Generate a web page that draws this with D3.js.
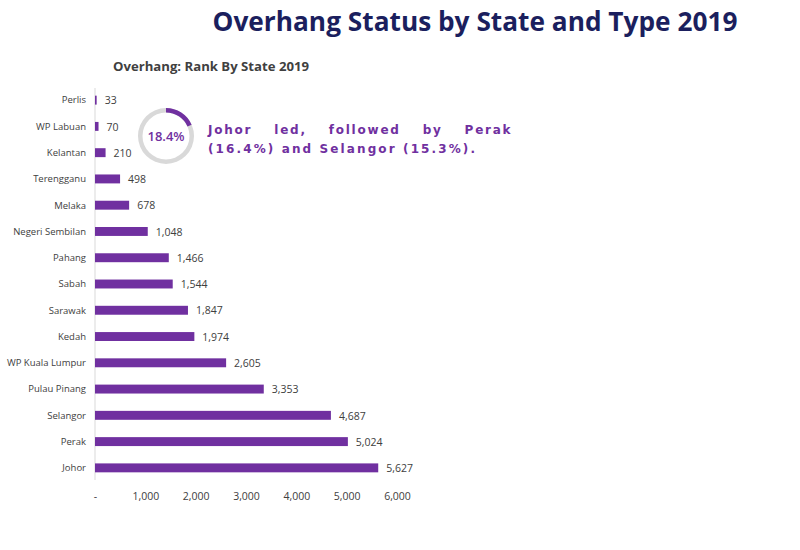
<!DOCTYPE html>
<html><head><meta charset="utf-8">
<script src="https://cdn.jsdelivr.net/npm/d3@7"></script>
<style>body{margin:0;background:#fff}</style>
</head><body><svg id="c" width="800" height="550"></svg>
<script>
const states = ["Perlis","WP Labuan","Kelantan","Terengganu","Melaka","Negeri Sembilan","Pahang","Sabah","Sarawak","Kedah","WP Kuala Lumpur","Pulau Pinang","Selangor","Perak","Johor"];
const overhang = [33,70,210,498,678,1048,1466,1544,1847,1974,2605,3353,4687,5024,5627];
const xTicks = [0,1000,2000,3000,4000,5000,6000];
const johorShare = 0.184;
const title = "Overhang Status by State and Type 2019";
const subtitle = "Overhang: Rank By State 2019";
const noteLines = ["Johor led, followed by Perak","(16.4%) and Selangor (15.3%)."];

const svg = d3.select("#c");
const purple = "#7030a0";

svg.append("text").attr("x",475).attr("y",31).attr("text-anchor","middle")
  .attr("font-family","'Open Sans', sans-serif").attr("font-weight","bold").attr("font-size",26.5)
  .attr("fill","#1b1f5e").attr("textLength",525).attr("lengthAdjust","spacingAndGlyphs").text(title);
svg.append("text").attr("x",113).attr("y",71)
  .attr("font-family","'Open Sans', sans-serif").attr("font-weight","bold").attr("font-size",12.5)
  .attr("fill","#404040").attr("textLength",196).attr("lengthAdjust","spacingAndGlyphs").text(subtitle);

const x = d3.scaleLinear().domain([0,6000]).range([95,397]);
const y = d3.scaleBand().domain(states).range([87,481]).paddingInner(0.66).paddingOuter(0.33);

svg.append("line").attr("x1",x(0)).attr("x2",x(0)).attr("y1",88).attr("y2",480)
  .attr("stroke","#d9d9d9").attr("stroke-width",1);

svg.selectAll("rect.bar").data(states).join("rect").attr("class","bar")
  .attr("x",x(0)).attr("y",d=>y(d)).attr("height",y.bandwidth())
  .attr("width",(d,i)=>Math.max(1.5,x(overhang[i])-x(0))).attr("fill",purple);

svg.selectAll("text.cat").data(states).join("text").attr("class","cat")
  .attr("x",x(0)-9).attr("y",d=>y(d)+y.bandwidth()/2).attr("dy","0.35em")
  .attr("text-anchor","end").attr("font-family","'Open Sans', sans-serif").attr("font-size",9.5)
  .attr("fill","#404040").text(d=>d);

svg.selectAll("text.val").data(states).join("text").attr("class","val")
  .attr("x",(d,i)=>x(overhang[i])+8).attr("y",d=>y(d)+y.bandwidth()/2).attr("dy","0.4em")
  .attr("font-family","'Open Sans', sans-serif").attr("font-size",10.5)
  .attr("fill","#404040").text((d,i)=>d3.format(",")(overhang[i]));

const ax = svg.append("g").attr("transform","translate(0,493)")
  .call(d3.axisBottom(x).tickValues(xTicks).tickSize(0).tickFormat(d=>d===0?"-":d3.format(",")(d)));
ax.select(".domain").remove();
ax.selectAll("text").attr("font-family","'Open Sans', sans-serif").attr("font-size",10.5).attr("fill","#404040").attr("dy","0.35em");

// donut
const cx=166, cy=136;
const arc = d3.arc().innerRadius(23.5).outerRadius(28);
const g = svg.append("g").attr("transform",`translate(${cx},${cy})`);
g.append("path").attr("d",arc({startAngle:0,endAngle:2*Math.PI})).attr("fill","#d9d9d9");
g.append("path").attr("d",arc({startAngle:0,endAngle:2*Math.PI*johorShare})).attr("fill",purple);
g.append("text").attr("text-anchor","middle").attr("dy","0.35em").attr("font-family","'Open Sans', sans-serif")
  .attr("font-weight","600").attr("font-size",13).attr("fill",purple).text(d3.format(".1%")(johorShare));

svg.append("text").attr("x",208).attr("y",134).attr("font-family","'DejaVu Sans', sans-serif")
  .attr("font-weight","bold").attr("font-size",12).attr("fill",purple)
  .attr("letter-spacing",2.4).attr("word-spacing",16)
  .attr("textLength",305).attr("lengthAdjust","spacing").text(noteLines[0]);
svg.append("text").attr("x",208).attr("y",153).attr("font-family","'DejaVu Sans', sans-serif")
  .attr("font-weight","bold").attr("font-size",12).attr("fill",purple)
  .attr("textLength",267).attr("lengthAdjust","spacing").text(noteLines[1]);
</script></body></html>
